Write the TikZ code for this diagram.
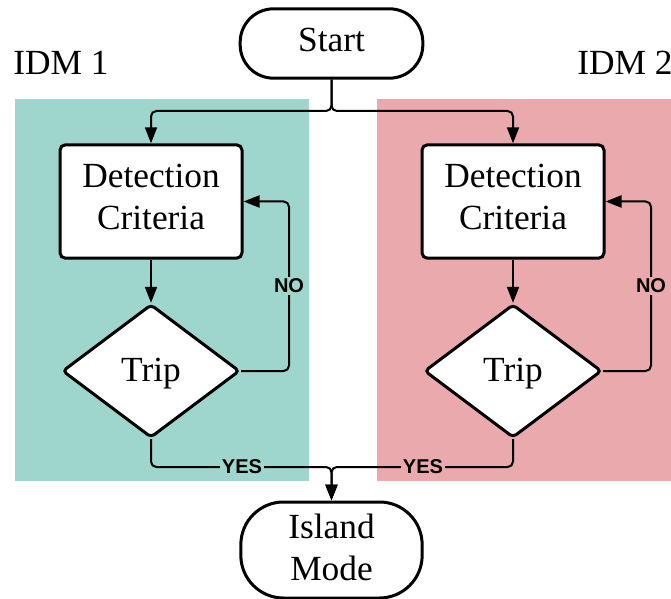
\documentclass[tikz,border=0pt]{standalone}
\usepackage{fontspec}
\setmainfont{Liberation Serif}
\newfontfamily\labelfont{Liberation Sans}
\usetikzlibrary{shapes.geometric,arrows.meta,calc}

\definecolor{idmteal}{HTML}{9ED5CD}
\definecolor{idmpink}{HTML}{E9A9AD}

\tikzset{
  boxtext/.style={font=\fontsize{26.5}{31.5}\selectfont, align=center},
  terminal/.style={boxtext, draw, line width=2.25pt, fill=white},
  process/.style={boxtext, draw, line width=2.25pt, fill=white, rounded corners=4pt,
                  minimum width=136.5pt, minimum height=85pt, text depth=7.5pt},
  decision/.style={boxtext, draw, line width=2.25pt, fill=white, shape=diamond,
                   shape aspect=1.33, minimum width=133pt, minimum height=100pt,
                   inner sep=0pt, rounded corners=3pt, text depth=2.5pt},
  flow/.style={line width=1.5pt, rounded corners=4pt, -{Triangle[length=12pt,width=9pt]}},
  answer/.style={font=\labelfont\bfseries\fontsize{15}{18}\selectfont, inner sep=1.5pt}
}

\begin{document}
\begin{tikzpicture}[x=0.75pt,y=-0.75pt]
  \useasboundingbox (0,0) rectangle (671,599);

  % detection module regions
  \fill[idmteal] (15,99) rectangle (309,481);
  \fill[idmpink] (377,99) rectangle (671,481);
  \node[boxtext, anchor=center] (idm1) at (61,63) {IDM 1};
  \node[boxtext, anchor=center] (idm2) at (625,63) {IDM 2};

  % nodes
  \node[terminal, minimum width=137pt, minimum height=52pt, rounded corners=25pt,
        text depth=6pt] (start) at (331.5,43.5) {Start};
  \node[process] (det1) at (151,201.5) {Detection\\Criteria};
  \node[process] (det2) at (513,201.5) {Detection\\Criteria};
  \node[decision] (trip1) at (151,371) {Trip};
  \node[decision] (trip2) at (513,371) {Trip};
  \node[terminal, minimum width=136pt, minimum height=72pt, rounded corners=32pt,
        text depth=4.5pt] (island) at (331.5,550) {Island\\Mode};

  \coordinate (split) at (331.5,111);
  \coordinate (merge) at (331.5,467);
  \coordinate (loop1) at (289,201.5);
  \coordinate (loop2) at (651,201.5);

  % start splits to both modules
  \draw[flow] (start.south) -- (split) -| (det1.north);
  \draw[flow] (start.south) -- (split) -| (det2.north);

  % detection to trip
  \draw[flow] (det1.south) -- (trip1.north);
  \draw[flow] (det2.south) -- (trip2.north);

  % NO loops back
  \draw[flow] (trip1.east) -| (loop1) -- (det1.east);
  \draw[flow] (trip2.east) -| (loop2) -- (det2.east);
  \node[answer, fill=idmteal] (no1) at (289,286) {NO};
  \node[answer, fill=idmpink] (no2) at (651,286) {NO};

  % YES merges into island mode
  \draw[flow] (trip1.south) |- (merge) -- (island.north);
  \draw[flow] (trip2.south) |- (merge) -- (island.north);
  \node[answer, fill=idmteal] (yes1) at (242,467) {YES};
  \node[answer, fill=idmpink] (yes2) at (423,467) {YES};
\end{tikzpicture}
\end{document}
